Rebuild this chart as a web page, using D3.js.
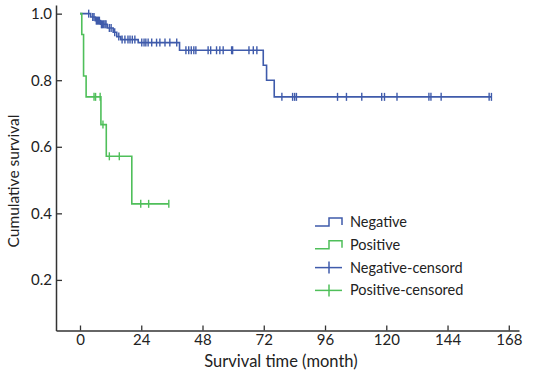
<html>
<head>
  <title>Survival curves</title>
  <script src="https://d3js.org/d3.v7.min.js"></script>
  <style>
    body { margin: 0; background: #fff; }
    text { font-family: Lato, "Open Sans", sans-serif; fill: #222; }
  </style>
</head>
<body>
  <div id="chart"></div>

  <script type="text/javascript">

    // step times (months) and survival after each step
    var negEventTimes = [4.2, 6.0, 8.0, 10.7, 13.0, 14.4, 16.0, 22.8, 39.0, 71.8, 73.1, 76.1];
    var negSurvival = [0.99, 0.979, 0.968, 0.957, 0.944, 0.931, 0.922, 0.913, 0.89, 0.845, 0.80, 0.75];
    var negCensorTimes = [3.4, 5.0, 5.5, 6.4, 6.8, 7.2, 7.6, 8.4, 8.8, 9.3, 9.8, 10.2, 11.5, 12.2, 13.6,
                          15.2, 16.5, 17.6, 18.8, 19.6, 20.5, 21.5, 24.2, 25.1, 25.8, 26.7, 28.1, 30.0,
                          31.3, 33.3, 35.2, 37.9, 41.5, 42.6, 43.6, 44.6, 45.4, 50.2, 51.2, 53.5, 54.8,
                          56.1, 59.4, 59.8, 66.2, 67.9, 69.3, 79.1, 83.3, 84.1, 84.8, 100.9, 104.4,
                          110.4, 118.2, 119.3, 124.2, 136.7, 137.5, 141.5, 160.3, 161.2];

    var posEventTimes = [0.7, 1.4, 2.4, 8.2, 10.3, 20.3];
    var posSurvival = [0.9375, 0.8125, 0.75, 0.6667, 0.5714, 0.4286];
    var posCensorTimes = [5.5, 6.1, 7.9, 9.0, 11.5, 15.4, 23.8, 26.9, 34.8];

    var xTicks = [0, 24, 48, 72, 96, 120, 144, 168];
    var yTicks = [0.2, 0.4, 0.6, 0.8, 1.0];
    var legendLabels = ["Negative", "Positive", "Negative-censord", "Positive-censored"];

    var blue = "#3f5bab";
    var green = "#4fbf5a";

    var width = 533, height = 377;

    var x = d3.scaleLinear().domain([-9.4, 172]).range([56, 519]);
    var y = d3.scaleLinear().domain([0.048, 1.026]).range([330.5, 5]);

    var svg = d3.select('#chart')
                .append('svg')
                  .attr('width', width)
                  .attr('height', height);

    // survival value at time t
    function survAt(times, surv, t) {
      var s = 1;
      for (var i = 0; i < times.length; i++) {
        if (times[i] <= t) s = surv[i];
      }
      return s;
    }

    function curvePoints(times, surv, censors) {
      var pts = [[0, 1]];
      for (var i = 0; i < times.length; i++) pts.push([times[i], surv[i]]);
      var end = d3.max(censors.concat(times));
      pts.push([end, survAt(times, surv, end)]);
      return pts;
    }

    var line = d3.line()
                 .curve(d3.curveStepAfter)
                 .x(function(d) { return x(d[0]); })
                 .y(function(d) { return y(d[1]); });

    var groups = [
      {times: negEventTimes, surv: negSurvival, censors: negCensorTimes, color: blue},
      {times: posEventTimes, surv: posSurvival, censors: posCensorTimes, color: green}
    ];

    groups.forEach(function(g) {
      svg.append('path')
           .datum(curvePoints(g.times, g.surv, g.censors))
           .attr('fill', 'none')
           .attr('stroke', g.color)
           .attr('stroke-width', 1.6)
           .attr('d', line);

      svg.append('g')
         .selectAll('line')
         .data(g.censors)
         .enter().append('line')
           .attr('x1', function(d) { return x(d); })
           .attr('x2', function(d) { return x(d); })
           .attr('y1', function(d) { return y(survAt(g.times, g.surv, d)) - 4; })
           .attr('y2', function(d) { return y(survAt(g.times, g.surv, d)) + 4; })
           .attr('stroke', g.color)
           .attr('stroke-width', 1.4);
    });

    // axes
    var x_axis = d3.axisBottom(x).tickValues(xTicks).tickSizeInner(-5).tickSizeOuter(0).tickPadding(4);
    var y_axis = d3.axisLeft(y).tickValues(yTicks).tickSizeInner(-6).tickSizeOuter(0).tickPadding(4)
                   .tickFormat(d3.format('.1f'));

    var gx = svg.append('g')
                .attr('transform', 'translate(0,330.5)')
                .call(x_axis);
    var gy = svg.append('g')
                .attr('transform', 'translate(56,0)')
                .call(y_axis);

    [gx, gy].forEach(function(g) {
      g.select('.domain').attr('stroke', '#333').attr('stroke-width', 1.5);
      g.selectAll('.tick line').attr('stroke', '#333').attr('stroke-width', 1.3);
      g.selectAll('.tick text')
         .style('font-family', 'Lato, sans-serif')
         .style('font-size', '15px')
         .attr('fill', '#222');
    });

    svg.append('text')
         .attr('x', 281)
         .attr('y', 367)
         .attr('text-anchor', 'middle')
         .style('font-size', '16.5px')
         .text('Survival time (month)');

    svg.append('text')
         .attr('transform', 'translate(19,181) rotate(-90)')
         .attr('text-anchor', 'middle')
         .style('font-size', '15.5px')
         .text('Cumulative survival');

    // legend
    var legend = svg.append('g').attr('transform', 'translate(315,222)');
    var legendColors = [blue, green, blue, green];

    legendLabels.forEach(function(label, i) {
      var row = legend.append('g').attr('transform', 'translate(0,' + (i * 22.8) + ')');
      if (i < 2) {
        row.append('path')
             .attr('d', 'M0,4H14V-4H27V3')
             .attr('fill', 'none')
             .attr('stroke', legendColors[i])
             .attr('stroke-width', 1.5);
      } else {
        row.append('line')
             .attr('x1', 0).attr('x2', 27).attr('y1', 0).attr('y2', 0)
             .attr('stroke', legendColors[i]).attr('stroke-width', 1.5);
        row.append('line')
             .attr('x1', 14).attr('x2', 14).attr('y1', -6).attr('y2', 6)
             .attr('stroke', legendColors[i]).attr('stroke-width', 1.5);
      }
      row.append('text')
           .attr('x', 35)
           .attr('y', 5)
           .style('font-size', '14.5px')
           .text(label);
    });

  </script>
</body>
</html>
